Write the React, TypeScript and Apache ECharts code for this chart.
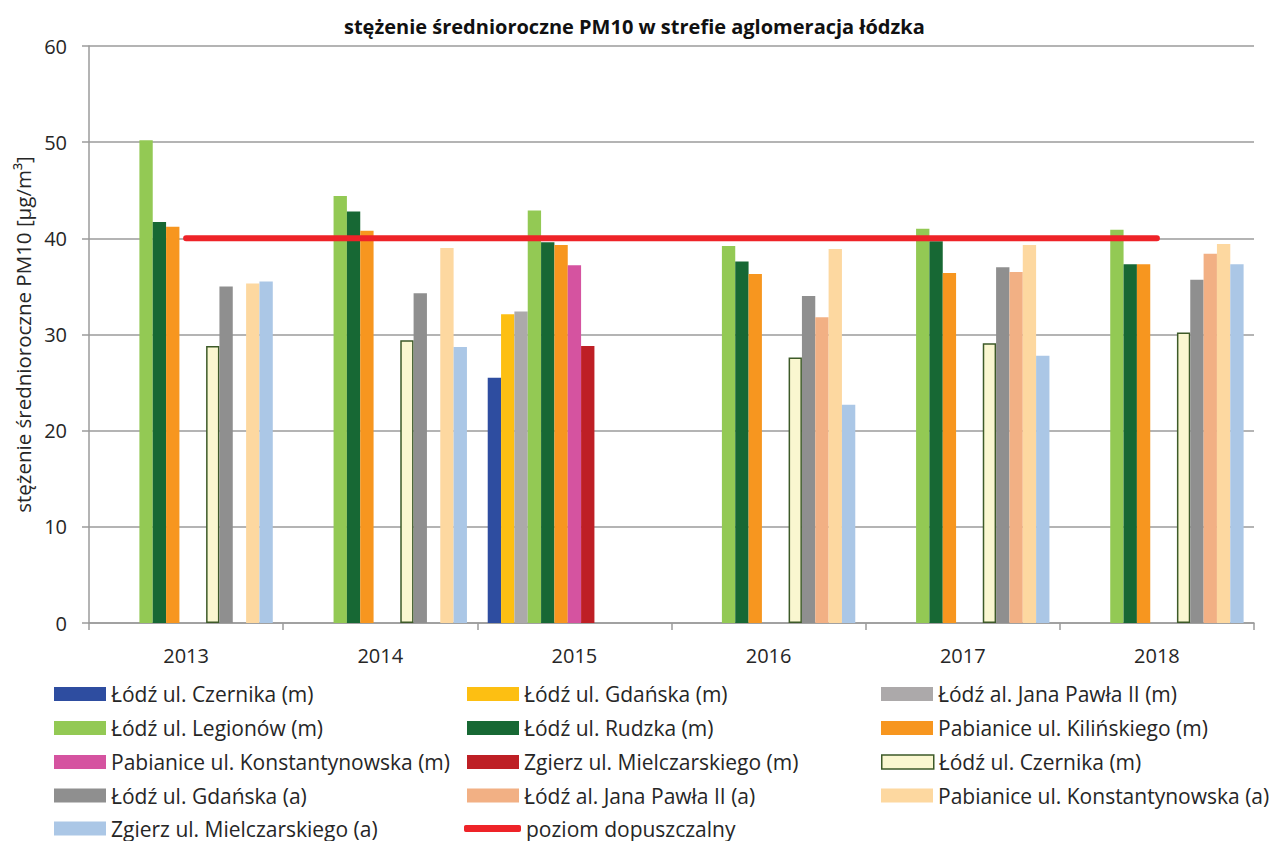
import React, { useEffect, useRef } from "react";
import * as echarts from "echarts";

const years = ["2013", "2014", "2015", "2016", "2017", "2018"];

const czernikaM = [null, null, 25.5, null, null, null];
const gdanskaM = [null, null, 32.1, null, null, null];
const janaPawlaM = [null, null, 32.4, null, null, null];
const legionowM = [50.2, 44.4, 42.9, 39.2, 41.0, 40.9];
const rudzkaM = [41.7, 42.8, 39.6, 37.6, 39.7, 37.3];
const kilinskiegoM = [41.2, 40.8, 39.3, 36.3, 36.4, 37.3];
const konstantynowskaM = [null, null, 37.2, null, null, null];
const mielczarskiegoM = [null, null, 28.8, null, null, null];
const czernikaA = [28.8, 29.4, null, 27.6, 29.1, 30.2];
const gdanskaA = [35.0, 34.3, null, 34.0, 37.0, 35.7];
const janaPawlaA = [null, null, null, 31.8, 36.5, 38.4];
const konstantynowskaA = [35.3, 39.0, null, 38.9, 39.3, 39.4];
const mielczarskiegoA = [35.5, 28.7, null, 22.7, 27.8, 37.3];
const limitValues = [40, 40, 40, 40, 40, 40];

const barLabels = [
  "Łódź ul. Czernika (m)",
  "Łódź ul. Gdańska (m)",
  "Łódź al. Jana Pawła II (m)",
  "Łódź ul. Legionów (m)",
  "Łódź ul. Rudzka (m)",
  "Pabianice ul. Kilińskiego (m)",
  "Pabianice ul. Konstantynowska (m)",
  "Zgierz ul. Mielczarskiego (m)",
  "Łódź ul. Czernika (m)",
  "Łódź ul. Gdańska (a)",
  "Łódź al. Jana Pawła II (a)",
  "Pabianice ul. Konstantynowska (a)",
  "Zgierz ul. Mielczarskiego (a)",
];
const lineLabel = "poziom dopuszczalny";

const barData = [
  czernikaM, gdanskaM, janaPawlaM, legionowM, rudzkaM, kilinskiegoM,
  konstantynowskaM, mielczarskiegoM, czernikaA, gdanskaA, janaPawlaA,
  konstantynowskaA, mielczarskiegoA,
];

const barStyles: any[] = [
  { color: "#2E4DA0" },
  { color: "#FDBF12" },
  { color: "#ACA9AA" },
  { color: "#93C954" },
  { color: "#176834" },
  { color: "#F7961F" },
  { color: "#D553A0" },
  { color: "#BE1F25" },
  { color: "#FAF7D0", borderColor: "#3D5A28", borderWidth: 1.5 },
  { color: "#8F8F8F" },
  { color: "#F2B084" },
  { color: "#FDD8A0" },
  { color: "#ABC7E6" },
];
const lineColor = "#EE2328";

const FONT = "Open Sans";
const TEXT = "#262626";
const GRID = "#9B9B9B";

export default function App() {
  const ref = useRef<HTMLDivElement>(null);

  useEffect(() => {
    if (!ref.current) return;
    const chart = echarts.init(ref.current, undefined, { renderer: "svg" });

    const seriesNames = barLabels.map((l, i) =>
      barLabels.indexOf(l) !== i ? l + " #" + i : l
    );

    const allNames = [...seriesNames, lineLabel];
    const allLabels = [...barLabels, lineLabel];
    const colX = [54, 467, 881];
    const rowY = [692.5, 726.5, 760.5, 794, 827];

    const legends = allNames.map((name, i) => {
      const isLine = i === allNames.length - 1;
      const col = i % 3;
      const row = Math.floor(i / 3);
      return {
        data: [
          {
            name,
            icon: isLine ? "roundRect" : "rect",
            itemStyle: isLine ? { color: lineColor } : barStyles[i],
          },
        ],
        left: isLine ? colX[col] - 3 : colX[col],
        top: rowY[row] - 9,
        orient: "horizontal",
        padding: 0,
        itemGap: 0,
        itemWidth: isLine ? 57 : 52,
        itemHeight: isLine ? 7 : 14,
        selectedMode: false,
        formatter: () => allLabels[i],
        textStyle: {
          fontFamily: FONT,
          fontSize: 21,
          color: TEXT,
          lineHeight: 18,
        },
      };
    });

    const series: any[] = barData.map((d, i) => ({
      name: seriesNames[i],
      type: "bar",
      data: d,
      barGap: "0%",
      barCategoryGap: "10.7%",
      itemStyle: barStyles[i],
      emphasis: { disabled: true },
    }));
    series.push({
      name: lineLabel,
      type: "line",
      data: limitValues,
      symbol: "none",
      z: 10,
      lineStyle: { color: lineColor, width: 6, cap: "round" },
      itemStyle: { color: lineColor },
      emphasis: { disabled: true },
    });

    chart.setOption({
      animation: false,
      textStyle: { fontFamily: FONT },
      title: {
        text: "stężenie średnioroczne PM10 w strefie aglomeracja łódzka",
        left: 344,
        top: 16,
        padding: 0,
        textStyle: {
          fontFamily: FONT,
          fontSize: 20,
          fontWeight: "bold",
          color: "#111",
        },
      },
      legend: legends,
      grid: { left: 89, right: 16, top: 46, bottom: 218 },
      xAxis: {
        type: "category",
        data: years,
        axisLine: { show: true, lineStyle: { color: GRID, width: 1.5 } },
        axisTick: {
          show: true,
          length: 7,
          interval: 0,
          lineStyle: { color: GRID, width: 1.5 },
        },
        axisLabel: {
          fontFamily: FONT,
          fontSize: 20,
          color: TEXT,
          margin: 22,
          interval: 0,
        },
      },
      yAxis: {
        type: "value",
        min: 0,
        max: 60,
        interval: 10,
        name: "stężenie średnioroczne PM10 [µg/m³]",
        nameLocation: "middle",
        nameGap: 56,
        nameTextStyle: { fontFamily: FONT, fontSize: 20.5, color: TEXT },
        axisLine: { show: true, lineStyle: { color: GRID, width: 1.5 } },
        axisTick: { show: true, length: 7, lineStyle: { color: GRID, width: 1.5 } },
        axisLabel: { fontFamily: FONT, fontSize: 20, color: TEXT, margin: 22 },
        splitLine: { show: true, lineStyle: { color: GRID, width: 1.5 } },
      },
      series,
    });

    return () => chart.dispose();
  }, []);

  return (
    <div
      ref={ref}
      style={{ position: "absolute", left: 0, top: 0, width: 1270, height: 841, background: "#fff" }}
    />
  );
}
